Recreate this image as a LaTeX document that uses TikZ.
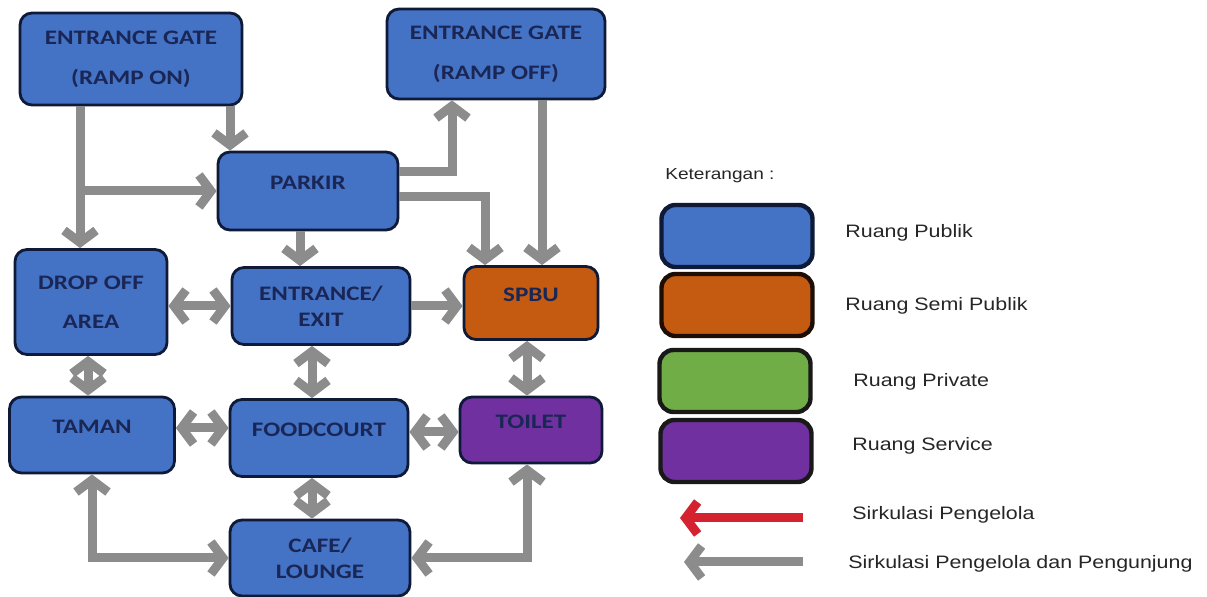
\documentclass[tikz,border=0pt]{standalone}
\usepackage{fontspec}
\newfontfamily\boxfont[FakeStretch=1.22]{Carlito}
\newfontfamily\legfont[FakeStretch=1.19]{Liberation Sans}
\usetikzlibrary{arrows.meta,positioning,calc}
\definecolor{pubBlue}{HTML}{4472C4}
\definecolor{semiOrange}{HTML}{C55A11}
\definecolor{privGreen}{HTML}{70AD47}
\definecolor{servPurple}{HTML}{7030A0}
\definecolor{edgeNavy}{HTML}{0E1A38}
\definecolor{textNavy}{HTML}{1A2756}
\definecolor{flowGrey}{HTML}{8C8C8C}
\definecolor{flowRed}{HTML}{D4232E}
\tikzset{
  room/.style={draw=edgeNavy, line width=1.4pt, rounded corners=6pt, align=center,
    text=textNavy, font=\boxfont\bfseries\fontsize{10.3}{13}\selectfont, inner sep=0pt},
  raised/.style={text height=7pt, text depth=8pt},
  flow/.style={draw=flowGrey, line width=4.5pt, -{Straight Barb[length=6pt,width=16pt]}},
  flowboth/.style={flow, {Straight Barb[length=6pt,width=16pt]}-{Straight Barb[length=6pt,width=16pt]}},
  legbox/.style={draw=black!90, line width=2.2pt, rounded corners=7pt,
    minimum width=75.5pt, minimum height=31pt, inner sep=0pt},
  legtext/.style={anchor=base west, text=black!85, font=\legfont\fontsize{9}{11}\selectfont, inner sep=0pt}
}

\begin{document}
\begin{tikzpicture}[x=0.5pt,y=-0.5pt]
  \fill[white] (0,0) rectangle (1207,597);
  \useasboundingbox (0,0) rectangle (1207,597);
  % rooms
  \node[room, fill=pubBlue, minimum width=111pt, minimum height=46pt] (rampon) at (131,59) {ENTRANCE GATE\\[7pt](RAMP ON)};
  \node[room, fill=pubBlue, minimum width=109pt, minimum height=45pt] (rampoff) at (496,54) {ENTRANCE GATE\\[7pt](RAMP OFF)};
  \node[room, raised, fill=pubBlue, minimum width=90pt, minimum height=39pt] (parkir) at (308,191) {PARKIR};
  \node[room, fill=pubBlue, minimum width=76pt, minimum height=52.5pt] (dropoff) at (91,302) {DROP OFF\\[6.5pt]AREA};
  \node[room, fill=pubBlue, minimum width=89pt, minimum height=38.5pt] (entrance) at (321,306) {ENTRANCE/\\EXIT};
  \node[room, raised, fill=semiOrange, minimum width=67pt, minimum height=36.5pt] (spbu) at (531,303) {SPBU};
  \node[room, raised, fill=pubBlue, minimum width=82.5pt, minimum height=38pt] (taman) at (92,435) {TAMAN};
  \node[room, raised, fill=pubBlue, minimum width=89pt, minimum height=38.5pt] (food) at (319,438) {FOODCOURT};
  \node[room, raised, fill=servPurple, minimum width=71pt, minimum height=33pt] (toilet) at (531,430) {TOILET};
  \node[room, fill=pubBlue, minimum width=90pt, minimum height=38pt] (cafe) at (320,558) {CAFE/\\LOUNGE};

  % circulation
  \draw[flow] ([xshift=-25.5pt]rampon.south) coordinate (ra) -- (ra |- dropoff.north);
  \draw[flow] (ra |- parkir.west) -- (parkir.west);
  \draw[flow] ([xshift=49.5pt]rampon.south) coordinate (rb) -- (rb |- parkir.north);
  \draw[flow] ([yshift=9.5pt]parkir.east) -| ([xshift=-22pt]rampoff.south);
  \draw[flow] ([yshift=-3pt]parkir.east) -| ([xshift=-23pt]spbu.north);
  \draw[flow] ([xshift=23pt]rampoff.south) coordinate (rc) -- (rc |- spbu.north);
  \draw[flow] ([xshift=-4pt]parkir.south) coordinate (pa) -- (pa |- entrance.north);
  \draw[flowboth] (dropoff.east |- entrance.west) -- (entrance.west);
  \draw[flow] (entrance.east) -- (entrance.east -| spbu.west);
  \draw[flowboth] ([xshift=-1.5pt]dropoff.south) coordinate (da) -- (da |- taman.north);
  \draw[flowboth] ([xshift=-4.5pt]entrance.south) coordinate (ea) -- (ea |- food.north);
  \draw[flowboth] ([xshift=-2pt]spbu.south) coordinate (sa) -- (sa |- toilet.north);
  \draw[flowboth] ([yshift=3.5pt]taman.east) coordinate (ta) -- (ta -| food.west);
  \draw[flowboth] ([yshift=3pt]food.east) coordinate (fa) -- (fa -| toilet.west);
  \draw[flowboth] ([xshift=-3.5pt]food.south) coordinate (fb) -- (fb |- cafe.north);
  \draw[flowboth] (taman.south) |- (cafe.west);
  \draw[flowboth] ([xshift=-2pt]toilet.south) |- (cafe.east);

  % legend
  \node[legtext, font=\legfont\fontsize{8}{10}\selectfont] (keter) at (665,179.5) {Keterangan :};
  \node[legbox, fill=pubBlue, draw=edgeNavy] (lpub) at (737,236) {};
  \node[legbox, fill=semiOrange, draw=black!85!semiOrange] (lsemi) at (737,305) {};
  \node[legbox, fill=privGreen] (lpriv) at (735,381) {};
  \node[legbox, fill=servPurple] (lserv) at (736,451) {};
  \node[legtext] (tpub) at (845,238) {Ruang Publik};
  \node[legtext] (tsemi) at (845,311) {Ruang Semi Publik};
  \node[legtext] (tpriv) at (853,387) {Ruang Private};
  \node[legtext] (tserv) at (852,451) {Ruang Service};
  \coordinate (redtail) at (803,518);
  \coordinate (redtip) at (680,518);
  \coordinate (greytail) at (803,562);
  \coordinate (greytip) at (684,562);
  \draw[flow, draw=flowRed] (redtail) -- (redtip);
  \draw[flow] (greytail) -- (greytip);
  \node[legtext] (tred) at (852,520) {Sirkulasi Pengelola};
  \node[legtext] (tgrey) at (848,569) {Sirkulasi Pengelola dan Pengunjung};
\end{tikzpicture}
\end{document}
